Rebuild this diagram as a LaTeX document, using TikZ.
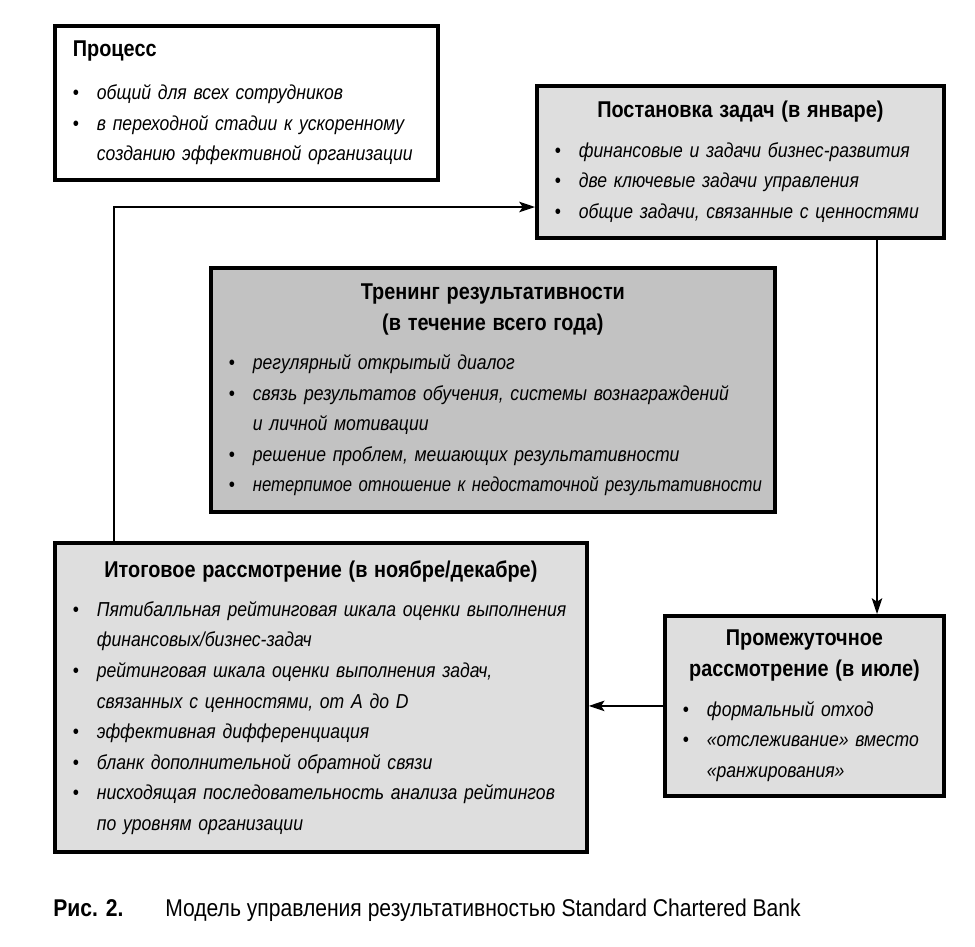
\documentclass[tikz,border=0pt]{standalone}
\usepackage{graphicx}
\usepackage{fontspec}
\setmainfont[FakeStretch=0.87]{Liberation Sans}
\usetikzlibrary{calc, arrows.meta}

\definecolor{boxlight}{gray}{0.87}
\definecolor{boxdark}{gray}{0.76}
\newlength{\bulw}\setlength{\bulw}{0.48cm}
\newcommand{\fsz}{\fontsize{11.5}{17.4}\selectfont}
\newcommand{\tsz}{\fontsize{13}{17.6}\selectfont}
\newcommand{\ctitle}[1]{{\centering\tsz\bfseries #1\par}\vspace{5pt}}
\newcommand{\ltitle}[1]{{\tsz\bfseries #1\par}\vspace{7pt}}
\newcommand{\bitem}[1]{\par\noindent\hangindent=\bulw\hangafter=1\makebox[\bulw][l]{\textbullet}\textit{#1}}

\begin{document}
\begin{tikzpicture}[x=0.02cm, y=-0.02cm,
  box/.style={draw, line width=2.2pt, anchor=north west, inner xsep=0.36cm,
    inner ysep=0pt, font=\fsz},
  arr/.style={-{Stealth[length=9pt, width=6pt, inset=2pt]}, line width=0.7pt}]
  \useasboundingbox (0,0) rectangle (975,947);

  \node[box, fill=white, text width=6.94cm, minimum height=3.08cm] (proc) at (53,24)
    {\raggedright\ltitle{Процесс}%
     \bitem{общий для всех сотрудников}%
     \bitem{в переходной стадии к ускоренному\newline созданию эффективной организации}\par};
  \node[box, fill=boxlight, text width=7.42cm, minimum height=3.04cm] (post) at (535,84)
    {\raggedright\ctitle{Постановка задач (в январе)}%
     \bitem{финансовые и задачи бизнес-развития}%
     \bitem{две ключевые задачи управления}%
     \bitem{общие задачи, связанные с ценностями}\par};
  \node[box, fill=boxdark, text width=10.56cm, minimum height=4.88cm] (train) at (209,266)
    {\raggedright\ctitle{Тренинг результативности\\(в течение всего года)}%
     \bitem{регулярный открытый диалог}%
     \bitem{связь результатов обучения, системы вознаграждений\newline и личной мотивации}%
     \bitem{решение проблем, мешающих результативности}%
     \bitem{\scalebox{0.95}[1]{нетерпимое отношение к недостаточной результативности}}\par};
  \node[box, fill=boxlight, text width=9.92cm, minimum height=6.18cm] (itog) at (53,541)
    {\raggedright\ctitle{Итоговое рассмотрение (в ноябре/декабре)}%
     \bitem{Пятибалльная рейтинговая шкала оценки выполнения\newline финансовых/бизнес-задач}%
     \bitem{рейтинговая шкала оценки выполнения задач,\newline связанных с ценностями, от A до D}%
     \bitem{эффективная дифференциация}%
     \bitem{бланк дополнительной обратной связи}%
     \bitem{нисходящая последовательность анализа рейтингов\newline по уровням организации}\par};
  \node[box, fill=boxlight, text width=4.86cm, minimum height=3.60cm] (prom) at (663,614)
    {\raggedright\ctitle{Промежуточное\\рассмотрение (в июле)}%
     \bitem{формальный отход}%
     \bitem{«отслеживание» вместо\newline «ранжирования»}\par};

  % connectors
  \coordinate (up) at (114,207);
  \coordinate (dn) at (877,0);
  \draw[arr] (itog.north -| up) |- (post.west |- up);
  \draw[arr] (post.south -| dn) -- (prom.north -| dn);
  \draw[arr] (prom.west) -- (itog.east |- prom.west);

  \node[anchor=base west, inner sep=0pt, font=\fontsize{13.8}{16}\selectfont] (cap) at (53,916)
    {\makebox[2.24cm][l]{\bfseries Рис. 2.}Модель управления результативностью Standard Chartered Bank};
\end{tikzpicture}
\end{document}
